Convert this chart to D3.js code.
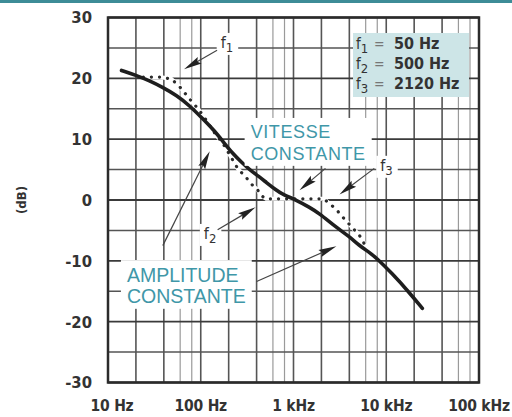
<!DOCTYPE html>
<html>
<head>
<meta charset="utf-8">
<script src="https://cdn.jsdelivr.net/npm/d3@7"></script>
<style>
  html, body { margin: 0; padding: 0; background: #fff; }
  svg { display: block; }
</style>
</head>
<body>
<div id="chart"></div>
<script>
(function () {
  'use strict';

  // frequency axis: decades + minor grid multipliers
  var decades = [10, 100, 1000, 10000, 100000];
  var decadeLabels = ['10 Hz', '100 Hz', '1 kHz', '10 kHz', '100 kHz'];
  var minorSteps = [2, 4, 6, 8];

  // level axis (dB)
  var dbTicks = [30, 20, 10, 0, -10, -20, -30];
  var dbHalfSteps = [25, 15, 5, -5, -15, -25];

  // real response (solid line)
  var curveFreq = [14, 20, 28, 39, 55, 76, 106, 140, 174, 222, 280, 336, 420, 508, 640,
    767, 1070, 1490, 1900, 2830, 4000, 5130, 6570, 7800, 11600, 17700, 24500];
  var curveDb = [21.3, 20.5, 19.6, 18.5, 17.2, 15.5, 13.3, 11.4, 9.6, 7.6, 6.1, 5.0, 3.9,
    2.9, 1.7, 0.9, 0.0, -1.2, -2.2, -4.4, -6.0, -7.5, -8.6, -9.5, -12.1, -15.2, -17.8];

  // asymptotic response (dotted line)
  var asymFreq = [24, 36, 48, 55, 62, 73, 90, 106, 140, 180, 252, 310, 336, 413, 449,
    508, 800, 1300, 2120, 2880, 3250, 3840, 5130, 5800, 6570];
  var asymDb = [20.2, 20.2, 19.9, 19.1, 18.3, 16.9, 15.3, 13.9, 11.1, 8.9, 5.1, 3.7, 2.9,
    1.6, 0.7, 0.2, 0.2, 0.2, 0.2, -1.5, -2.5, -3.7, -5.8, -7.2, -8.0];

  // corner frequencies (legend)
  var cornerIdx = ['1', '2', '3'];
  var cornerValues = ['50 Hz', '500 Hz', '2120 Hz'];

  var W = 512, H = 417,
      INK = '#2b2b2b',
      TEAL = '#3f97a8',
      FONT_AX = '"DejaVu Sans Condensed", "DejaVu Sans", sans-serif',
      FONT_TX = '"Liberation Sans", Arial, sans-serif';

  var x = d3.scaleLog().domain([10, 100000]).range([108, 479]);
  var y = d3.scaleLinear().domain([-30, 30]).range([382.5, 17.5]);

  var svg = d3.select('#chart').append('svg')
    .attr('width', W)
    .attr('height', H);

  // teal strip at the top of the page
  svg.append('rect')
    .attr('x', 0).attr('y', 0)
    .attr('width', W).attr('height', 3)
    .attr('fill', '#3d8c97');

  var grid = svg.append('g').attr('class', 'grid');

  var vLines = [];
  decades.forEach(function (d, i) {
    vLines.push({ f: d, major: true });
    if (i < decades.length - 1) {
      minorSteps.forEach(function (m) {
        vLines.push({ f: d * m, major: m <= 4 });
      });
    }
  });

  grid.selectAll('line.v')
    .data(vLines)
    .enter().append('line')
      .attr('class', 'v')
      .attr('x1', function (d) { return x(d.f); })
      .attr('x2', function (d) { return x(d.f); })
      .attr('y1', y(30))
      .attr('y2', y(-30))
      .attr('stroke', function (d) { return d.major ? '#555' : '#9a9a9a'; })
      .attr('stroke-width', function (d) { return d.major ? 1.6 : 1.2; });

  grid.selectAll('line.h')
    .data(dbTicks.concat(dbHalfSteps))
    .enter().append('line')
      .attr('class', 'h')
      .attr('x1', x(10))
      .attr('x2', x(100000))
      .attr('y1', function (d) { return y(d); })
      .attr('y2', function (d) { return y(d); })
      .attr('stroke', function (d) { return d % 10 === 0 ? '#3a3a3a' : '#555'; })
      .attr('stroke-width', function (d) { return d % 10 === 0 ? 1.8 : 1.5; });

  // frame
  svg.append('rect')
    .attr('x', x(10))
    .attr('y', y(30))
    .attr('width', x(100000) - x(10))
    .attr('height', y(-30) - y(30))
    .attr('fill', 'none')
    .attr('stroke', INK)
    .attr('stroke-width', 2.5);

  // axis labels
  svg.selectAll('text.ytick')
    .data(dbTicks)
    .enter().append('text')
      .attr('class', 'ytick')
      .attr('x', 92)
      .attr('y', function (d) { return y(d); })
      .attr('dy', '0.36em')
      .attr('text-anchor', 'end')
      .attr('font-family', FONT_AX)
      .attr('font-weight', 'bold')
      .attr('font-size', 16.5)
      .attr('fill', '#333')
      .text(function (d) { return d; });

  svg.selectAll('text.xtick')
    .data(decades)
    .enter().append('text')
      .attr('class', 'xtick')
      .attr('x', function (d) { return x(d) + (d === 10 ? 4 : 0); })
      .attr('y', 411)
      .attr('text-anchor', 'middle')
      .attr('font-family', FONT_AX)
      .attr('font-weight', 'bold')
      .attr('font-size', 15.5)
      .attr('letter-spacing', -0.2)
      .attr('fill', '#333')
      .text(function (d, i) { return decadeLabels[i]; });

  svg.append('text')
    .attr('transform', 'translate(21,' + y(0) + ') rotate(-90)')
    .attr('text-anchor', 'middle')
    .attr('dy', '0.35em')
    .attr('font-family', FONT_AX)
    .attr('font-weight', 'bold')
    .attr('font-size', 13)
    .attr('fill', '#333')
    .text('(dB)');

  // curves
  var asym = asymFreq.map(function (f, i) { return [f, asymDb[i]]; });
  var real = curveFreq.map(function (f, i) { return [f, curveDb[i]]; });

  var straight = d3.line()
    .x(function (d) { return x(d[0]); })
    .y(function (d) { return y(d[1]); });

  var smooth = d3.line()
    .x(function (d) { return x(d[0]); })
    .y(function (d) { return y(d[1]); })
    .curve(d3.curveBasis);

  // white under the dots hides the grid like on the print
  svg.append('path')
    .attr('d', straight(asym))
    .attr('fill', 'none')
    .attr('stroke', '#fff')
    .attr('stroke-width', 4);

  svg.append('path')
    .attr('d', straight(asym))
    .attr('fill', 'none')
    .attr('stroke', INK)
    .attr('stroke-width', 3.2)
    .attr('stroke-linecap', 'round')
    .attr('stroke-dasharray', '0.1 8');

  svg.append('path')
    .attr('d', smooth(real))
    .attr('fill', 'none')
    .attr('stroke', '#1e1e1e')
    .attr('stroke-width', 3.6)
    .attr('stroke-linecap', 'round');

  // annotations
  function label(g, txt, pad) {
    var b = txt.node().getBBox();
    g.insert('rect', 'text')
      .attr('x', b.x - pad[0])
      .attr('y', b.y - pad[1])
      .attr('width', b.width + pad[0] + pad[2])
      .attr('height', b.height + pad[1] + pad[3])
      .attr('fill', '#fff');
  }

  function fLabel(name, f, db) {
    var g = svg.append('g');
    var t = g.append('text')
      .attr('x', x(f))
      .attr('y', y(db))
      .attr('font-family', FONT_AX)
      .attr('font-size', 16)
      .attr('fill', '#333')
      .text('f');
    t.append('tspan')
      .attr('dy', 4)
      .attr('font-size', 13)
      .text(name);
    label(g, t, [4, 0, 5, 0]);
  }

  fLabel('1', 164, 25.0);
  fLabel('2', 108, -6.4);
  fLabel('3', 8610, 4.8);

  function twoLines(lines, f, dbs, size, spacing) {
    var g = svg.append('g');
    var t = g.append('text')
      .attr('font-family', FONT_TX)
      .attr('font-size', size)
      .attr('letter-spacing', spacing)
      .attr('fill', TEAL);
    lines.forEach(function (s, i) {
      t.append('tspan')
        .attr('x', x(f))
        .attr('y', y(dbs[i]))
        .text(s);
    });
    label(g, t, [6, 4, 6, 2]);
  }

  twoLines(['VITESSE', 'CONSTANTE'], 345, [10.2, 6.6], 18, 0.6);
  twoLines(['AMPLITUDE', 'CONSTANTE'], 16, [-13.5, -16.9], 19.5, 0);

  var arrows = [
    { from: [150, 24.6], to: [66, 21.5] },
    { from: [152, -4.9], to: [390, -1.2] },
    { from: [7430, 5.2], to: [3130, 0.9] },
    { from: [2210, 5.2], to: [1160, 1.6] },
    { from: [39, -7.5], to: [125, 8.0] },
    { from: [400, -13.4], to: [2900, -7.6] }
  ];

  var arrowG = svg.append('g');
  arrows.forEach(function (a) {
    var x1 = x(a.from[0]), y1 = y(a.from[1]),
        x2 = x(a.to[0]), y2 = y(a.to[1]),
        len = Math.sqrt((x2 - x1) * (x2 - x1) + (y2 - y1) * (y2 - y1)),
        ux = (x2 - x1) / len, uy = (y2 - y1) / len,
        L = 18, w = 3.8;

    arrowG.append('line')
      .attr('x1', x1).attr('y1', y1)
      .attr('x2', x2 - ux * 8).attr('y2', y2 - uy * 8)
      .attr('stroke', '#444')
      .attr('stroke-width', 1.2);

    arrowG.append('path')
      .attr('d', 'M' + x2 + ',' + y2 +
        'L' + (x2 - ux * L - uy * w) + ',' + (y2 - uy * L + ux * w) +
        'L' + (x2 - ux * L * 0.85) + ',' + (y2 - uy * L * 0.85) +
        'L' + (x2 - ux * L + uy * w) + ',' + (y2 - uy * L - ux * w) + 'Z')
      .attr('fill', '#222');
  });

  // legend box with the corner frequencies
  var leg = svg.append('g').attr('transform', 'translate(353,33)');
  leg.append('rect')
    .attr('width', 116)
    .attr('height', 64)
    .attr('fill', '#cde5e7');

  cornerIdx.forEach(function (c, i) {
    var row = leg.append('g').attr('transform', 'translate(0,' + (16 + i * 20) + ')');
    var t = row.append('text')
      .attr('x', 3)
      .attr('font-family', FONT_AX)
      .attr('font-size', 15)
      .attr('fill', '#333')
      .text('f');
    t.append('tspan')
      .attr('dy', 4)
      .attr('font-size', 13)
      .text(c);
    row.append('text')
      .attr('x', 21)
      .attr('font-family', FONT_AX)
      .attr('font-size', 14)
      .attr('fill', '#777')
      .text('=');
    row.append('text')
      .attr('x', 41)
      .attr('font-family', FONT_AX)
      .attr('font-weight', 'bold')
      .attr('font-size', 16)
      .attr('fill', '#333')
      .text(cornerValues[i]);
  });
})();
</script>
</body>
</html>
